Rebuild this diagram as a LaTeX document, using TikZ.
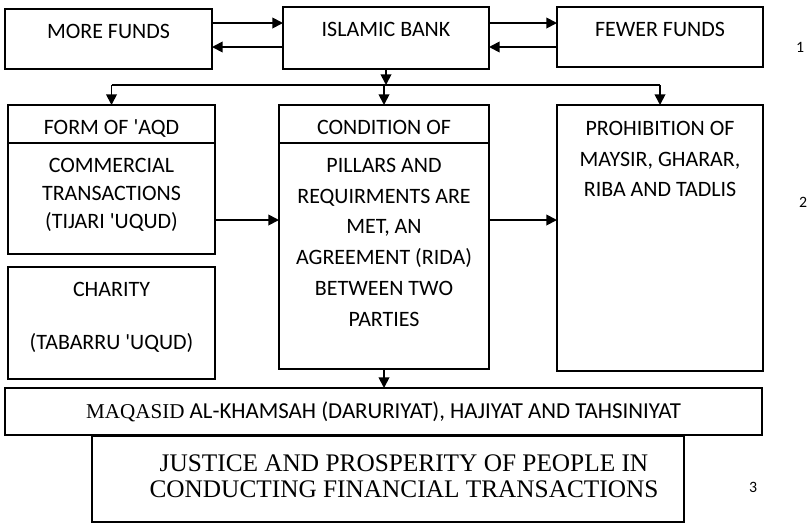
\documentclass[tikz,border=0pt]{standalone}
\usepackage{fontspec}
\setmainfont{Carlito}[Ligatures=TeXOff]
\newfontfamily\timesfont{Liberation Serif}[Ligatures=TeXOff]
\usetikzlibrary{arrows.meta, positioning}

\begin{document}
\begin{tikzpicture}[
  blk/.style={draw, line width=0.8pt, inner sep=0pt, outer sep=0pt, anchor=north west},
  lbl/.style={anchor=north, align=center, inner sep=0pt, yshift=-0.29cm, font=\fontsize{12.5pt}{17.3pt}\selectfont},
  arr/.style={-{Triangle[length=6pt, width=6pt]}, line width=1pt},
  num/.style={font=\fontsize{9pt}{11pt}\selectfont}
]
  \useasboundingbox (0,0) rectangle (16.2,-10.5);
  % top row
  \node[blk, minimum width=4.14cm, minimum height=1.20cm, label={[lbl]north:MORE FUNDS}] (more) at (0.10,-0.18) {};
  \node[blk, minimum width=4.12cm, minimum height=1.24cm, label={[lbl]north:ISLAMIC BANK}] (bank) at (5.66,-0.14) {};
  \node[blk, minimum width=4.12cm, minimum height=1.20cm, label={[lbl]north:FEWER FUNDS}] (fewer) at (11.14,-0.14) {};
  \coordinate (up) at (0,-0.46);
  \coordinate (lo) at (0,-0.94);
  \draw[arr] (more.east |- up) -- (bank.west |- up);
  \draw[arr] (bank.west |- lo) -- (more.east |- lo);
  \draw[arr] (bank.east |- up) -- (fewer.west |- up);
  \draw[arr] (fewer.west |- lo) -- (bank.east |- lo);

  % middle row
  \node[blk, minimum width=4.14cm, minimum height=0.76cm, label={[lbl]north:FORM OF 'AQD}] (formhd) at (0.16,-2.10) {};
  \node[blk, minimum width=4.14cm, minimum height=2.22cm, label={[lbl, font=\fontsize{12.5pt}{16pt}\selectfont]north:COMMERCIAL\\TRANSACTIONS\\(TIJARI 'UQUD)}] (formbd) at (0.16,-2.86) {};
  \node[blk, minimum width=4.14cm, minimum height=2.24cm, label={[lbl]north:CHARITY\\[13pt](TABARRU 'UQUD)}] (charity) at (0.16,-5.34) {};
  \node[blk, minimum width=4.20cm, minimum height=0.76cm, label={[lbl]north:CONDITION OF}] (condhd) at (5.58,-2.10) {};
  \node[blk, minimum width=4.20cm, minimum height=4.52cm, label={[lbl, font=\fontsize{12.5pt}{17.6pt}\selectfont]north:PILLARS AND\\REQUIRMENTS ARE\\MET, AN\\AGREEMENT (RIDA)\\BETWEEN TWO\\PARTIES}] (condbd) at (5.58,-2.86) {};
  \node[blk, minimum width=4.12cm, minimum height=5.32cm, label={[lbl, yshift=-0.03cm]north:PROHIBITION OF\\MAYSIR, GHARAR,\\RIBA AND TADLIS}] (prohib) at (11.14,-2.10) {};

  \coordinate (split) at (bank.south |- 0,-1.70);
  \draw[arr] (bank.south) -- (split);
  \draw[line width=1pt] (split -| formhd.north) -- (split -| prohib.north);
  \foreach \b in {formhd, condhd, prohib}
    \draw[arr] (split -| \b.north) -- (\b.north);
  \coordinate (mid) at (0,-4.40);
  \draw[arr] (formbd.east |- mid) -- (condbd.west |- mid);
  \draw[arr] (condbd.east |- mid) -- (prohib.west |- mid);

  % bottom row
  \node[blk, minimum width=15.14cm, minimum height=0.94cm, font=\fontsize{13pt}{15pt}\selectfont] (maqasid) at (0.10,-7.76) {{\timesfont\fontsize{12pt}{15pt}\selectfont MAQASID} AL-KHAMSAH (DARURIYAT), HAJIYAT AND TAHSINIYAT};
  \node[blk, minimum width=11.84cm, minimum height=1.72cm, label={[anchor=north, align=center, inner sep=0pt, xshift=0.32cm, yshift=-0.37cm, font=\timesfont\fontsize{14.4pt}{14.7pt}\selectfont]north:JUSTICE AND PROSPERITY OF PEOPLE IN\\CONDUCTING FINANCIAL TRANSACTIONS}] (justice) at (1.84,-8.72) {};
  \draw[arr] (condbd.south) -- (condbd.south |- maqasid.north);

  % numbers
  \node[num] (n1) at (16.00,-0.94) {1};
  \node[num] (n2) at (16.06,-4.04) {2};
  \node[num] (n3) at (15.06,-9.74) {3};
\end{tikzpicture}
\end{document}
